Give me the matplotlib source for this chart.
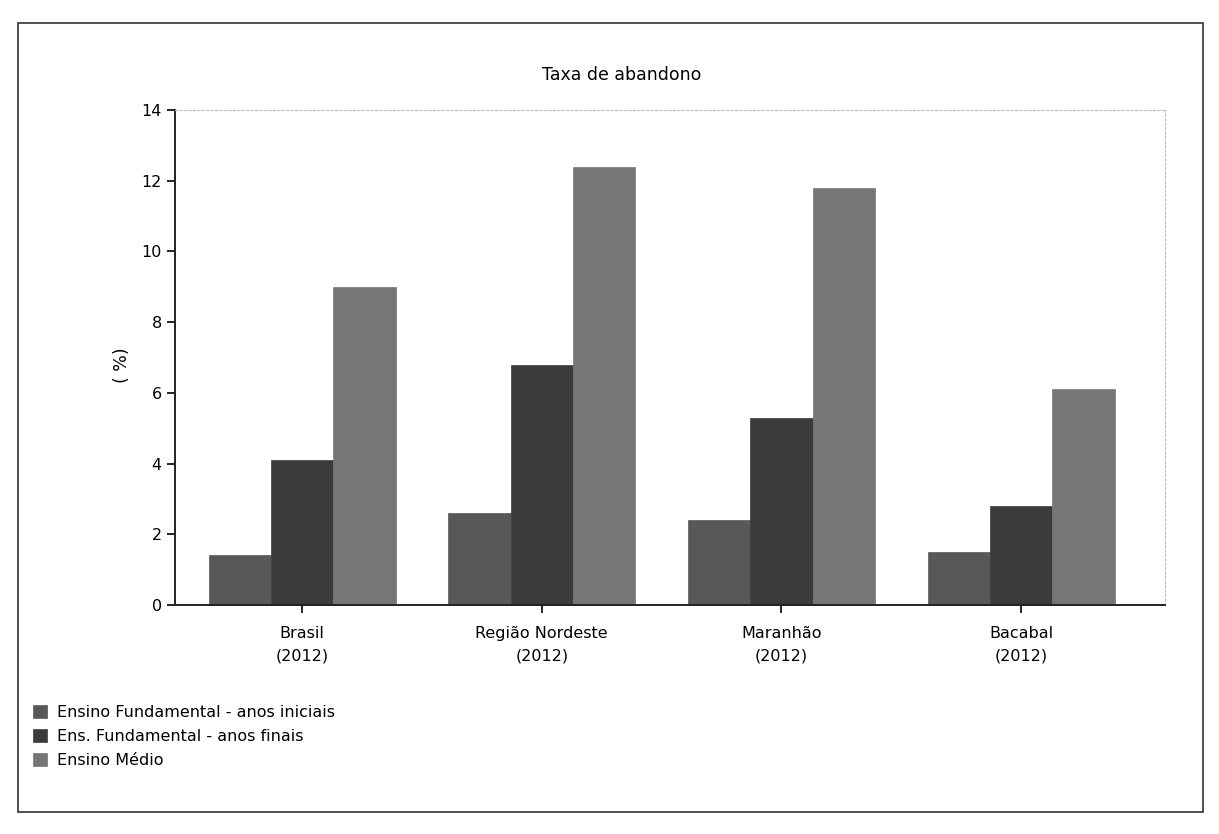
"""Taxa de abandono (2012) - barras agrupadas em tons de cinza."""

import matplotlib

matplotlib.use("Agg")
import matplotlib.pyplot as plt
import numpy as np
from matplotlib.patches import Rectangle

categorias = ["Brasil\n(2012)", "Região Nordeste\n(2012)", "Maranhão\n(2012)", "Bacabal\n(2012)"]
series = [
    "Ensino Fundamental - anos iniciais",
    "Ens. Fundamental - anos finais",
    "Ensino Médio",
]
anos_iniciais = [1.4, 2.6, 2.4, 1.5]
anos_finais = [4.1, 6.8, 5.3, 2.8]
ensino_medio = [9.0, 12.4, 11.8, 6.1]
yticks = [0, 2, 4, 6, 8, 10, 12, 14]

cores = ["#585858", "#3c3c3c", "#767676"]

plt.rcParams["font.family"] = ["DejaVu Sans"]

fig = plt.figure(figsize=(12.19, 8.34), dpi=100)
ax = fig.add_axes([0.1436, 0.2746, 0.812, 0.5935])

x = np.arange(len(categorias))
w = 0.26
for i, (vals, nome) in enumerate(zip([anos_iniciais, anos_finais, ensino_medio], series)):
    ax.bar(x + (i - 1) * w, vals, width=w, color=cores[i], label=nome,
           edgecolor=cores[i], linewidth=0.5)

ax.set_xlim(-0.53, 3.6)
ax.set_ylim(0, 14)
ax.set_yticks(yticks)
ax.set_xticks(x)
ax.set_xticklabels(categorias, fontsize=11.5, linespacing=1.6)
ax.tick_params(axis="y", labelsize=11.5, length=6, width=1.2, direction="out")
ax.tick_params(axis="x", length=6, width=1.2, direction="out", pad=9)

for lado in ["left", "bottom"]:
    ax.spines[lado].set_color("#222222")
    ax.spines[lado].set_linewidth(1.4)
for lado in ["top", "right"]:
    ax.spines[lado].set_color("#bbbbbb")
    ax.spines[lado].set_linestyle((0, (2, 2)))
    ax.spines[lado].set_linewidth(0.8)

fig.text(0.51, 0.91, "Taxa de abandono", ha="center", va="center", fontsize=12.5)
fig.text(0.1, 0.562, "( %)", ha="center", va="center", rotation=90, fontsize=12.5)

fig.legend(loc="upper left", bbox_to_anchor=(0.018, 0.168), frameon=False,
           fontsize=11.5, handlelength=0.9, handleheight=0.9, handletextpad=0.6,
           labelspacing=0.55, borderpad=0.2)

fig.patches.append(Rectangle((0.015, 0.026), 0.972, 0.947, transform=fig.transFigure,
                             fill=False, edgecolor="#333333", linewidth=1.2))

fig.savefig("out.png", dpi=100)
plt.close(fig)
